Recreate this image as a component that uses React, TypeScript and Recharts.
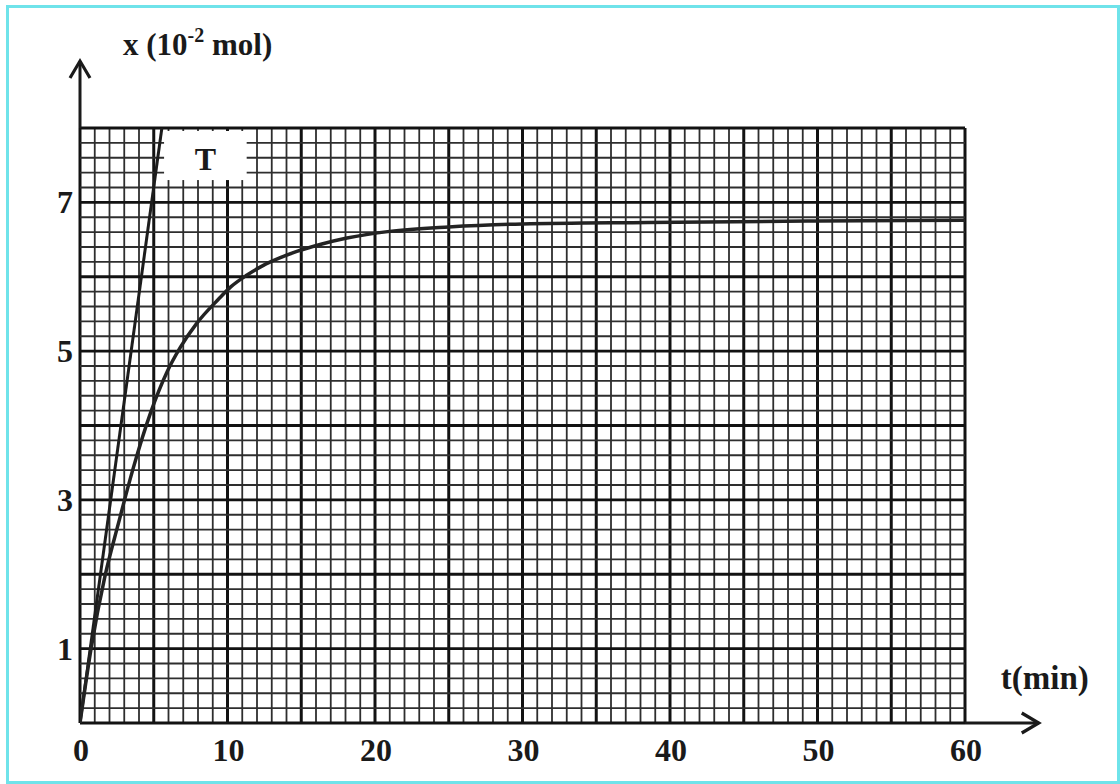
import React from 'react';
import { LineChart, Line, XAxis, YAxis, ReferenceLine } from 'recharts';

// time (min) of the read points of the curve x = f(t)
const curveT = [0, 0.75, 1.7, 2.6, 3.6, 4.8, 5.9, 6.8, 7.9, 9.4, 10.2, 11.3, 12.4, 13.5, 14.7, 16.4, 18.1, 21, 25, 30, 38.5, 50, 60];
// amount x (10^-2 mol)
const curveX = [0, 1.0, 1.98, 2.68, 3.42, 4.18, 4.72, 5.05, 5.37, 5.7, 5.86, 6.02, 6.15, 6.25, 6.34, 6.44, 6.52, 6.61, 6.67, 6.71, 6.73, 6.75, 6.76];

// tangent T at the origin
const tangentT = [0, 5.55];
const tangentX = [0, 8];

const xTicks = [0, 10, 20, 30, 40, 50, 60];
const yTicks = [1, 3, 5, 7];

const xLabel = 't(min)';
const yLabelMain = 'x (10';
const yLabelSup = '-2';
const yLabelEnd = ' mol)';
const tangentLabel = 'T';

// graph-paper rulings
const gridT = Array.from({ length: 61 }, (_, i) => i);
const gridX = Array.from({ length: 41 }, (_, i) => Math.round(i * 2) / 10);

const curveData = curveT.map((t, i) => ({ t, x: curveX[i] }));
const tangentData = tangentT.map((t, i) => ({ t, x: tangentX[i] }));

const FONT = '"Liberation Serif", "Times New Roman", serif';
const INK = '#1a1a1a';

const XTick = (props: any) => {
  const { x, y, payload } = props;
  return (
    <text x={x + 1} y={y + 38} textAnchor="middle" fontFamily={FONT} fontWeight="bold" fontSize={32} fill={INK}>
      {payload.value}
    </text>
  );
};

const YTick = (props: any) => {
  const { x, y, payload } = props;
  return (
    <text x={x - 7} y={y + 11} textAnchor="end" fontFamily={FONT} fontWeight="bold" fontSize={32} fill={INK}>
      {payload.value}
    </text>
  );
};

const XArrow = (props: any) => {
  const { x1, y1, x2, y2 } = props;
  return (
    <g>
      <line x1={x1} y1={y1} x2={x2} y2={y2} stroke={INK} strokeWidth={3} />
      <polyline points={`${x2 - 17},${y2 - 10} ${x2},${y2} ${x2 - 17},${y2 + 10}`} fill="none" stroke={INK} strokeWidth={3.2} />
      <text x={x2 - 38} y={y2 - 34} fontFamily={FONT} fontWeight="bold" fontSize={33} fill={INK}>
        {xLabel}
      </text>
    </g>
  );
};

const YArrow = (props: any) => {
  const { x1, y1, x2, y2 } = props;
  const tx = Math.min(x1, x2);
  const ty = Math.min(y1, y2);
  return (
    <g>
      <line x1={x1} y1={y1} x2={x2} y2={y2} stroke={INK} strokeWidth={3} />
      <polyline points={`${tx - 10},${ty + 17} ${tx},${ty} ${tx + 10},${ty + 17}`} fill="none" stroke={INK} strokeWidth={3.2} />
      <text x={tx + 43} y={ty - 6} fontFamily={FONT} fontWeight="bold" fontSize={31} fill={INK}>
        {yLabelMain}
        <tspan fontSize={20} dy={-13}>{yLabelSup}</tspan>
        <tspan fontSize={31} dy={13}>{yLabelEnd}</tspan>
      </text>
    </g>
  );
};

// white patch of the paper around the tangent's name
const TBox = (props: any) => {
  const { x1, y1, x2, y2 } = props;
  const left = Math.min(x1, x2);
  const top = Math.min(y1, y2);
  const w = Math.abs(x2 - x1);
  const h = Math.abs(y2 - y1);
  return (
    <g>
      <rect x={left} y={top} width={w} height={h} fill="#ffffff" />
      <text x={left + w * 0.5} y={top + h * 0.8} textAnchor="middle" fontFamily={FONT} fontWeight="bold" fontSize={32} fill={INK}>
        {tangentLabel}
      </text>
    </g>
  );
};

export default function App() {
  return (
    <div style={{ position: 'absolute', left: 0, top: 0, width: 1120, height: 784, background: '#fff', overflow: 'hidden' }}>
      <div
        style={{
          position: 'absolute',
          left: 6,
          top: 5,
          width: 1108,
          height: 773,
          border: '3px solid #6fe3ea',
          boxSizing: 'content-box',
        }}
      />
      <LineChart
        width={1120}
        height={784}
        margin={{ top: 128, right: 155, bottom: 21, left: 40 }}
        style={{ position: 'absolute', left: 0, top: 0 }}
      >
        <XAxis
          dataKey="t"
          type="number"
          domain={[0, 60]}
          ticks={xTicks}
          axisLine={false}
          tickLine={false}
          tickSize={0}
          tickMargin={0}
          height={40}
          tick={<XTick />}
          allowDataOverflow
        />
        <YAxis
          type="number"
          domain={[0, 8]}
          ticks={yTicks}
          axisLine={false}
          tickLine={false}
          tickSize={0}
          tickMargin={0}
          width={40}
          tick={<YTick />}
          allowDataOverflow
        />
        {gridT.map((t) => (
          <ReferenceLine
            key={'vt' + t}
            x={t}
            stroke={t % 5 === 0 ? '#121212' : '#2e2e2e'}
            strokeWidth={t % 5 === 0 ? 3 : 1.8}
            ifOverflow="visible"
          />
        ))}
        {gridX.map((v) => (
          <ReferenceLine
            key={'hx' + v}
            y={v}
            stroke={Math.abs(v - Math.round(v)) < 1e-6 ? '#121212' : '#2e2e2e'}
            strokeWidth={Math.abs(v - Math.round(v)) < 1e-6 ? 2.8 : 1.8}
            ifOverflow="visible"
          />
        ))}
        <ReferenceLine
          segment={[{ x: 5.7, y: 7.3 }, { x: 11.3, y: 7.96 }]}
          ifOverflow="visible"
          shape={<TBox />}
        />
        <ReferenceLine
          segment={[{ x: 60, y: 0 }, { x: 65, y: 0 }]}
          ifOverflow="visible"
          shape={<XArrow />}
        />
        <ReferenceLine
          segment={[{ x: 0, y: 8 }, { x: 0, y: 8.9 }]}
          ifOverflow="visible"
          shape={<YArrow />}
        />
        <Line
          data={tangentData}
          dataKey="x"
          type="linear"
          stroke="#1c1c1c"
          strokeWidth={3}
          dot={false}
          activeDot={false}
          isAnimationActive={false}
        />
        <Line
          data={curveData}
          dataKey="x"
          type="monotone"
          stroke="#232323"
          strokeWidth={3.5}
          dot={false}
          activeDot={false}
          isAnimationActive={false}
        />
      </LineChart>
    </div>
  );
}
